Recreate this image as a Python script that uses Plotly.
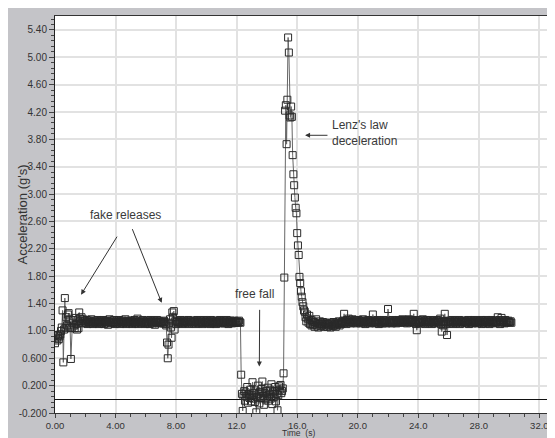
import numpy as np
import plotly.graph_objects as go

# ---- data (acceleration in g's, sampled every 0.05 s from t = 0) ----
SAMPLE_DT = 0.05
acc_s00 = [0.82, 0.94, 0.90, 0.86, 0.93, 0.88, 0.92, 0.95, 1.00, 1.05, 1.30, 0.54, 1.02, 1.48, 1.04, 1.20, 1.08, 1.24, 1.26, 1.17]
acc_s01 = [1.05, 0.59, 1.04, 1.12, 1.16, 1.08, 1.04, 1.19, 1.10, 1.02, 1.15, 1.04, 1.27, 1.18, 1.14, 1.20, 1.12, 1.17, 1.15, 1.11]
acc_s02 = [1.14, 1.12, 1.16, 1.10, 1.13, 1.15, 1.11, 1.14, 1.17, 1.12, 1.10, 1.13, 1.15, 1.12, 1.14, 1.11, 1.16, 1.13, 1.10, 1.14]
acc_s03 = [1.12, 1.15, 1.11, 1.13, 1.16, 1.10, 1.14, 1.12, 1.15, 1.13, 1.09, 1.14, 1.17, 1.12, 1.11, 1.15, 1.13, 1.12, 1.16, 1.10]
acc_s04 = [1.13, 1.11, 1.15, 1.12, 1.14, 1.16, 1.10, 1.13, 1.12, 1.15, 1.11, 1.14, 1.13, 1.17, 1.10, 1.12, 1.15, 1.13, 1.11, 1.14]
acc_s05 = [1.15, 1.12, 1.10, 1.14, 1.13, 1.16, 1.11, 1.12, 1.14, 1.18, 1.10, 1.13, 1.15, 1.12, 1.11, 1.14, 1.16, 1.12, 1.13, 1.10]
acc_s06 = [1.12, 1.14, 1.11, 1.15, 1.13, 1.10, 1.16, 1.12, 1.14, 1.11, 1.13, 1.15, 1.09, 1.14, 1.12, 1.16, 1.13, 1.11, 1.14, 1.12]
acc_s07 = [1.13, 1.12, 1.14, 1.11, 1.15, 1.13, 1.10, 1.08, 0.83, 0.60, 0.80, 1.12, 1.17, 1.05, 0.90, 1.27, 1.20, 1.29, 1.02, 1.14]
acc_s08 = [1.10, 1.15, 1.13, 1.11, 1.14, 1.12, 1.16, 1.13, 1.10, 1.14, 1.12, 1.15, 1.11, 1.13, 1.14, 1.12, 1.16, 1.10, 1.13, 1.15]
acc_s09 = [1.13, 1.11, 1.14, 1.12, 1.15, 1.13, 1.10, 1.14, 1.16, 1.12, 1.11, 1.13, 1.15, 1.12, 1.14, 1.10, 1.13, 1.16, 1.12, 1.14]
acc_s10 = [1.12, 1.15, 1.11, 1.13, 1.14, 1.10, 1.16, 1.12, 1.13, 1.15, 1.11, 1.14, 1.12, 1.10, 1.15, 1.13, 1.12, 1.14, 1.16, 1.11]
acc_s11 = [1.14, 1.12, 1.13, 1.15, 1.11, 1.14, 1.12, 1.16, 1.13, 1.10, 1.14, 1.12, 1.15, 1.13, 1.11, 1.14, 1.12, 1.15, 1.13, 1.12]
acc_s12 = [1.13, 1.14, 1.12, 1.15, 1.13, 1.12, 0.36, 0.08, -0.17, 0.05, 0.12, -0.02, 0.10, 0.04, 0.18, -0.05, 0.07, 0.02, 0.14, -0.03]
acc_s13 = [0.06, 0.25, 0.01, 0.09, -0.04, 0.13, -0.19, 0.03, 0.20, 0.08, -0.06, 0.11, 0.02, 0.15, 0.26, 0.05, -0.08, 0.09, 0.00, 0.12]
acc_s14 = [0.04, 0.17, -0.02, 0.07, 0.14, 0.01, 0.22, -0.07, 0.10, 0.03, 0.12, 0.18, -0.03, 0.08, -0.16, 0.06, 0.19, 0.14, 0.21, 0.09]
acc_s15 = [0.12, 0.16, 0.38, 1.78, 4.22, 4.30, 3.73, 4.38, 5.29, 5.07, 4.15, 4.12, 4.28, 4.13, 3.57, 3.29, 3.13, 2.95, 2.80, 2.72]
acc_s16 = [2.43, 2.25, 2.11, 1.79, 1.70, 1.58, 1.50, 1.42, 1.36, 1.30, 1.28, 1.20, 1.14, 1.24, 1.18, 1.12, 1.22, 1.10, 1.16, 1.08]
acc_s17 = [1.15, 1.09, 1.13, 1.06, 1.11, 1.17, 1.08, 1.12, 1.05, 1.10, 1.14, 1.07, 1.11, 1.09, 1.13, 1.06, 1.10, 1.12, 1.08, 1.11]
acc_s18 = [1.06, 1.10, 1.08, 1.12, 1.05, 1.09, 1.11, 1.07, 1.13, 1.08, 1.10, 1.06, 1.12, 1.09, 1.11, 1.14, 1.08, 1.12, 1.10, 1.13]
acc_s19 = [1.11, 1.15, 1.25, 1.12, 1.14, 1.10, 1.16, 1.13, 1.18, 1.12, 1.15, 1.11, 1.14, 1.17, 1.13, 1.12, 1.16, 1.14, 1.11, 1.15]
acc_s20 = [1.13, 1.16, 1.12, 1.14, 1.11, 1.15, 1.13, 1.17, 1.12, 1.14, 1.10, 1.15, 1.13, 1.12, 1.16, 1.14, 1.11, 1.13, 1.15, 1.12]
acc_s21 = [1.24, 1.13, 1.15, 1.11, 1.14, 1.12, 1.16, 1.13, 1.10, 1.15, 1.12, 1.14, 1.13, 1.11, 1.16, 1.12, 1.14, 1.15, 1.11, 1.13]
acc_s22 = [1.32, 1.14, 1.12, 1.15, 1.13, 1.11, 1.16, 1.12, 1.14, 1.13, 1.15, 1.11, 1.14, 1.12, 1.16, 1.13, 1.15, 1.12, 1.14, 1.17]
acc_s23 = [1.13, 1.15, 1.12, 1.16, 1.14, 1.11, 1.15, 1.13, 1.17, 1.12, 1.14, 1.16, 1.13, 1.15, 1.25, 1.12, 1.14, 1.10, 1.01, 1.13]
acc_s24 = [1.16, 1.12, 1.14, 1.11, 1.15, 1.13, 1.17, 1.12, 1.14, 1.10, 1.16, 1.13, 1.15, 1.11, 1.14, 1.12, 1.16, 1.13, 1.10, 1.14]
acc_s25 = [1.12, 1.15, 1.13, 1.11, 1.14, 1.16, 1.12, 1.15, 1.13, 1.18, 1.10, 0.99, 1.14, 1.08, 1.12, 1.25, 1.13, 1.10, 0.94, 1.13]
acc_s26 = [1.14, 1.11, 1.15, 1.13, 1.12, 1.16, 1.10, 1.14, 1.13, 1.15, 1.11, 1.12, 1.14, 1.13, 1.16, 1.10, 1.13, 1.15, 1.12, 1.14]
acc_s27 = [1.13, 1.15, 1.11, 1.14, 1.12, 1.13, 1.16, 1.10, 1.14, 1.12, 1.15, 1.13, 1.11, 1.14, 1.16, 1.12, 1.13, 1.15, 1.11, 1.14]
acc_s28 = [1.12, 1.14, 1.13, 1.16, 1.10, 1.15, 1.12, 1.13, 1.14, 1.11, 1.16, 1.13, 1.12, 1.15, 1.10, 1.14, 1.13, 1.16, 1.12, 1.14]
acc_s29 = [1.13, 1.11, 1.15, 1.12, 1.14, 1.20, 1.13, 1.16, 1.10, 1.14, 1.19, 1.12, 1.15, 1.13, 1.11, 1.16, 1.12, 1.14, 1.13, 1.15]
acc_s30 = [1.13, 1.12, 1.14, 1.12]

x_tick_vals = [0, 4, 8, 12, 16, 20, 24, 28, 32]
x_tick_text = ["0.00", "4.00", "8.00", "12.0", "16.0", "20.0", "24.0", "28.0", "32.0"]
y_tick_vals = [-0.2, 0.2, 0.6, 1.0, 1.4, 1.8, 2.2, 2.6, 3.0, 3.4, 3.8, 4.2, 4.6, 5.0, 5.4]
y_tick_text = ["-0.200", "0.200", "0.600", "1.00", "1.40", "1.80", "2.20", "2.60", "3.00",
               "3.40", "3.80", "4.20", "4.60", "5.00", "5.40"]

acceleration = (acc_s00 + acc_s01 + acc_s02 + acc_s03 + acc_s04 + acc_s05 + acc_s06 + acc_s07
                + acc_s08 + acc_s09 + acc_s10 + acc_s11 + acc_s12 + acc_s13 + acc_s14 + acc_s15
                + acc_s16 + acc_s17 + acc_s18 + acc_s19 + acc_s20 + acc_s21 + acc_s22 + acc_s23
                + acc_s24 + acc_s25 + acc_s26 + acc_s27 + acc_s28 + acc_s29 + acc_s30)
time_s = np.round(np.arange(len(acceleration)) * SAMPLE_DT, 2)

FONT = "Liberation Sans, Arial, sans-serif"
PANEL = "#c4c4c8"

fig = go.Figure()
fig.add_trace(go.Scatter(
    x=time_s, y=acceleration, mode="lines+markers",
    line=dict(color="#666666", width=1),
    marker=dict(symbol="square-open", size=7, color="#2a2a2a", line=dict(width=1, color="#2a2a2a")),
    showlegend=False, hoverinfo="x+y",
))

# the page body adds an 8 px offset; figure coordinates = screen - 8
OFF = 8
W, H = 555, 438
ML, MT = 55 - OFF, 16 - OFF
PR, PB = 548 - OFF, 413 - OFF
MR, MB = W - PR, H - PB
pw, ph = PR - ML, PB - MT

def px_x(p):
    return (p - OFF - ML) / pw

def px_y(p):
    return (PB - (p - OFF)) / ph

ann_font = dict(family=FONT, size=12, color="#3a3a3a")
arrow_style = dict(showarrow=True, arrowhead=2, arrowsize=1, arrowwidth=1, arrowcolor="#333333",
                   axref="x", ayref="y", text="")
annotations = [
    dict(x=4.69, y=2.69, text="fake releases", showarrow=False, font=ann_font),
    dict(x=1.72, y=1.53, ax=4.16, ay=2.40, **arrow_style),
    dict(x=7.05, y=1.41, ax=5.07, ay=2.51, **arrow_style),
    dict(x=13.15, y=1.54, text="free fall", showarrow=False, font=ann_font),
    dict(x=13.5, y=0.48, ax=13.52, ay=1.33, **arrow_style),
    dict(x=18.2, y=3.89, text="Lenz's law<br>deceleration", showarrow=False, font=ann_font,
         xanchor="left", align="left"),
    dict(x=16.52, y=3.86, ax=18.1, ay=3.86, **arrow_style),
    dict(xref="paper", yref="paper", x=px_x(22), y=0.5, text="Acceleration (g's)", textangle=-90,
         xanchor="center", yanchor="middle",
         showarrow=False, font=dict(family=FONT, size=13, color="#333333")),
    dict(xref="paper", yref="paper", x=px_x(298), y=px_y(433), text="Time  (s)",
         xanchor="center", yanchor="middle", borderpad=0,
         showarrow=False, font=dict(family=FONT, size=8.5, color="#333333")),
]

fig.update_layout(
    width=W, height=H,
    margin=dict(l=ML, r=MR, t=MT, b=MB, pad=0),
    paper_bgcolor=PANEL, plot_bgcolor="white",
    annotations=annotations,
    font=dict(family=FONT, size=10, color="#333333"),
    xaxis=dict(range=[0, 32.57], tickvals=x_tick_vals, ticktext=x_tick_text,
               showgrid=True, gridcolor="#e2e2e2", gridwidth=1.5,
               zeroline=False, showline=True, linecolor="#333333", linewidth=1, mirror=True,
               ticks="outside", ticklen=4, tickcolor="#444444",
               minor=dict(dtick=1, tick0=0, ticks="outside", ticklen=3, tickcolor="#444444", showgrid=False),
               tickfont=dict(family=FONT, size=9.5, color="#333333")),
    yaxis=dict(range=[-0.2, 5.604], tickvals=y_tick_vals, ticktext=y_tick_text,
               showgrid=True, gridcolor="#e2e2e2", gridwidth=1.5,
               zeroline=True, zerolinecolor="#111111", zerolinewidth=1.2,
               showline=True, linecolor="#222222", linewidth=1, mirror=True,
               ticks="outside", ticklen=5, tickcolor="#444444",
               minor=dict(dtick=0.08, tick0=-0.2, ticks="outside", ticklen=3, tickcolor="#444444", showgrid=False),
               tickfont=dict(family=FONT, size=10, color="#333333")),
)

fig.write_html("out.html")
